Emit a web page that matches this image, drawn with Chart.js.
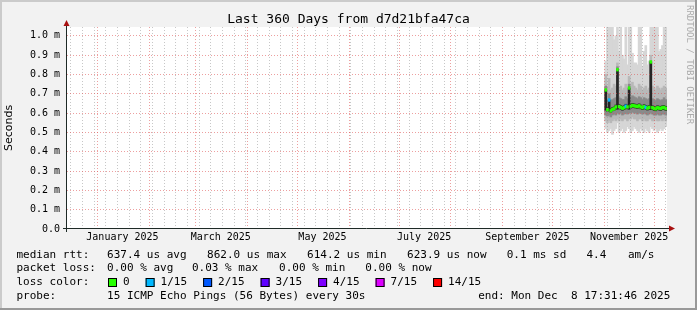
<!DOCTYPE html>
<html>
<head>
<meta charset="utf-8">
<script src="https://cdn.jsdelivr.net/npm/chart.js@4.4.1/dist/chart.umd.min.js"></script>
<style>
    html, body { margin: 0; padding: 0; background: #f2f2f2; }
    #wrap { width: 697px; height: 310px; }
</style>
</head>
<body>
<div id="wrap"><canvas id="smokeChart" width="697" height="310"></canvas></div>
<script>
// x is counted in days from 1 Jan 2025; graph ends Mon Dec 8 2025 17:31:46
const endDay = 341.73;
const startDay = endDay - 360;
const firstMonday = -16;

const monthStarts = [0, 31, 59, 90, 120, 151, 181, 212, 243, 273, 304, 334];
const labelDays = [15, 74, 135, 196, 258, 319];
const monthLabels = ['January 2025', 'March 2025', 'May 2025', 'July 2025', 'September 2025', 'November 2025'];

const yTickValues = [0, 0.1, 0.2, 0.3, 0.4, 0.5, 0.6, 0.7, 0.8, 0.9, 1.0];
const yTickLabels = ['0.0', '0.1 m', '0.2 m', '0.3 m', '0.4 m', '0.5 m', '0.6 m', '0.7 m', '0.8 m', '0.9 m', '1.0 m'];

// one column per day, values in ms
const smokeDays = [305, 306, 307, 308, 309, 310, 311, 312, 313, 314, 315, 316, 317, 318, 319, 320, 321, 322, 323,
    324, 325, 326, 327, 328, 329, 330, 331, 332, 333, 334, 335, 336, 337, 338, 339, 340, 341];
const medianRtt = [0.72, 0.618, 0.668, 0.612, 0.62, 0.622, 0.632, 0.825, 0.634, 0.63, 0.625, 0.628, 0.636, 0.632, 0.73,
    0.636, 0.64, 0.638, 0.636, 0.634, 0.638, 0.632, 0.628, 0.634, 0.63, 0.626, 0.63, 0.865, 0.628, 0.624, 0.622, 0.628,
    0.626, 0.624, 0.628, 0.63, 0.624];
const lossCount = [0, 0, 1, 0, 0, 0, 0, 0, 0, 0, 0, 0, 1, 0, 0, 0, 0, 0, 0, 0, 0, 0, 0, 0, 1, 0, 0, 0, 0, 0, 0, 0, 0, 0, 0, 0, 0];
const smokeMin = [0.52, 0.5, 0.51, 0.52, 0.49, 0.51, 0.52, 0.55, 0.5, 0.51, 0.52, 0.5, 0.51, 0.53, 0.52, 0.5, 0.51, 0.53,
    0.52, 0.51, 0.5, 0.52, 0.51, 0.5, 0.52, 0.51, 0.5, 0.53, 0.52, 0.51, 0.52, 0.5, 0.51, 0.52, 0.51, 0.52, 0.53];
const smokeMax = [0.87, 1.1, 1.1, 1.1, 1.1, 0.98, 1.0, 1.1, 0.92, 1.1, 0.9, 0.88, 1.1, 0.85, 1.1, 1.1, 0.91, 0.86, 0.86,
    0.85, 1.1, 1.1, 0.84, 0.92, 0.95, 0.85, 0.87, 1.1, 1.1, 1.1, 1.1, 1.1, 0.92, 0.93, 0.95, 1.1, 1.1];
const midLow = [0.56, 0.55, 0.56, 0.55, 0.56, 0.57, 0.56, 0.57, 0.56, 0.57, 0.56, 0.57, 0.57, 0.56, 0.57, 0.57, 0.58, 0.57,
    0.57, 0.56, 0.57, 0.57, 0.56, 0.57, 0.56, 0.56, 0.57, 0.57, 0.56, 0.56, 0.57, 0.56, 0.56, 0.57, 0.56, 0.57, 0.56];
const midHigh = [0.8, 0.74, 0.78, 0.72, 0.73, 0.75, 0.74, 0.86, 0.73, 0.74, 0.72, 0.73, 0.75, 0.72, 0.79, 0.74, 0.76, 0.74,
    0.73, 0.72, 0.75, 0.74, 0.72, 0.73, 0.74, 0.72, 0.73, 0.9, 0.74, 0.73, 0.72, 0.74, 0.73, 0.72, 0.73, 0.74, 0.73];
const innerLow = [0.59, 0.585, 0.59, 0.58, 0.59, 0.595, 0.59, 0.6, 0.595, 0.6, 0.59, 0.595, 0.6, 0.595, 0.6, 0.6, 0.605,
    0.6, 0.6, 0.595, 0.6, 0.6, 0.595, 0.6, 0.595, 0.59, 0.595, 0.6, 0.595, 0.59, 0.59, 0.595, 0.59, 0.59, 0.595, 0.595, 0.59];
const innerHigh = [0.74, 0.67, 0.7, 0.665, 0.67, 0.675, 0.68, 0.84, 0.68, 0.675, 0.67, 0.67, 0.685, 0.675, 0.75, 0.68, 0.69,
    0.685, 0.68, 0.675, 0.685, 0.68, 0.67, 0.68, 0.675, 0.67, 0.675, 0.87, 0.675, 0.67, 0.665, 0.675, 0.67, 0.665, 0.67, 0.68, 0.67];
const coreLow = [0.615, 0.61, 0.612, 0.605, 0.612, 0.615, 0.622, 0.62, 0.625, 0.62, 0.615, 0.618, 0.626, 0.622, 0.62, 0.626,
    0.63, 0.628, 0.626, 0.624, 0.628, 0.622, 0.618, 0.624, 0.62, 0.616, 0.62, 0.618, 0.618, 0.614, 0.612, 0.618, 0.616, 0.614,
    0.618, 0.62, 0.614];
const coreHigh = [0.72, 0.628, 0.668, 0.622, 0.63, 0.632, 0.642, 0.825, 0.644, 0.64, 0.635, 0.638, 0.646, 0.642, 0.73, 0.646,
    0.65, 0.648, 0.646, 0.644, 0.648, 0.642, 0.638, 0.644, 0.64, 0.636, 0.64, 0.865, 0.638, 0.634, 0.632, 0.638, 0.636, 0.634,
    0.638, 0.64, 0.634];

const lossLabels = ['0', '1/15', '2/15', '3/15', '4/15', '7/15', '14/15'];
const lossColors = ['#26ff00', '#00b8ff', '#0059ff', '#5e00ff', '#7e00ff', '#dd00ff', '#ff0000'];

const rttStats = ['637.4 us avg', '862.0 us max', '614.2 us min', '623.9 us now', '0.1 ms sd', '4.4', 'am/s'];
const lossStats = ['0.00 % avg', '0.03 % max', '0.00 % min', '0.00 % now'];
const probeText = '15 ICMP Echo Pings (56 Bytes) every 30s';
const endText = 'end: Mon Dec  8 17:31:46 2025';
const titleText = 'Last 360 Days from d7d21bfa47ca';

const MONO = '"DejaVu Sans Mono", monospace';
const MAJOR_GRID = 'rgba(222, 80, 80, 0.55)';
const MINOR_GRID = 'rgba(143, 143, 143, 0.5)';

function buildXTicks() {
    const ticks = monthStarts.map(function(d) { return { value: d, kind: 'major' }; });
    for (let d = firstMonday; d <= endDay; d += 7) {
        if (monthStarts.indexOf(d) === -1) {
            ticks.push({ value: d, kind: 'minor' });
        }
    }
    labelDays.forEach(function(d, i) {
        ticks.push({ value: d + 0.001, kind: 'label', text: monthLabels[i] });
    });
    ticks.sort(function(a, b) { return a.value - b.value; });
    return ticks;
}

const xTicks = buildXTicks();

function toBars(lo, hi) {
    return smokeDays.map(function(day, i) {
        return { x: day, y: [lo[i], hi[i]] };
    });
}

function smokeSet(lo, hi, color, order) {
    return {
        data: toBars(lo, hi),
        backgroundColor: color,
        borderWidth: 0,
        barThickness: 2,
        grouped: false,
        order: order
    };
}

const medianBars = smokeDays.map(function(day, i) {
    return { x: day, y: [medianRtt[i] - 0.007, medianRtt[i] + 0.007] };
});

const framePlugin = {
    id: 'rrdFrame',
    beforeDraw: function(chart) {
        const ctx = chart.ctx;
        const a = chart.chartArea;
        ctx.save();
        ctx.fillStyle = '#f2f2f2';
        ctx.fillRect(0, 0, chart.width, chart.height);
        ctx.fillStyle = '#ffffff';
        ctx.fillRect(a.left, a.top, a.right - a.left, a.bottom - a.top);
        ctx.restore();
    },
    afterDraw: function(chart) {
        const ctx = chart.ctx;
        const a = chart.chartArea;
        ctx.save();

        // axes and arrows
        ctx.strokeStyle = '#1e2a26';
        ctx.lineWidth = 1;
        ctx.beginPath();
        ctx.moveTo(a.left - 4, a.bottom - 0.5);
        ctx.lineTo(a.right + 3, a.bottom - 0.5);
        ctx.moveTo(a.left - 0.5, a.bottom + 3);
        ctx.lineTo(a.left - 0.5, a.top - 2);
        ctx.stroke();
        ctx.fillStyle = '#a81010';
        ctx.beginPath();
        ctx.moveTo(a.left - 0.5, a.top - 7);
        ctx.lineTo(a.left - 3.5, a.top - 1);
        ctx.lineTo(a.left + 2.5, a.top - 1);
        ctx.closePath();
        ctx.fill();
        ctx.beginPath();
        ctx.moveTo(a.right + 8, a.bottom - 0.5);
        ctx.lineTo(a.right + 2, a.bottom - 3.5);
        ctx.lineTo(a.right + 2, a.bottom + 2.5);
        ctx.closePath();
        ctx.fill();

        // title
        ctx.fillStyle = '#000';
        ctx.textBaseline = 'middle';
        ctx.textAlign = 'center';
        ctx.font = '13px ' + MONO;
        ctx.fillText(titleText, 348.5, 19.5);

        // legend
        ctx.textAlign = 'left';
        ctx.font = '11px ' + MONO;
        const rttX = [107.1, 207.1, 307.1, 407.1, 506.7, 586.5, 628];
        ctx.fillText('median rtt:', 16.4, 255);
        rttStats.forEach(function(t, i) { ctx.fillText(t, rttX[i], 255); });
        const lossX = [107.1, 192, 279.1, 365.3];
        ctx.fillText('packet loss:', 16.4, 268.5);
        lossStats.forEach(function(t, i) { ctx.fillText(t, lossX[i], 268.5); });
        ctx.fillText('loss color:', 16.4, 282.3);
        let bx = 108;
        lossLabels.forEach(function(t, i) {
            ctx.fillStyle = lossColors[i];
            ctx.fillRect(bx, 278, 9, 9);
            ctx.strokeStyle = '#000';
            ctx.strokeRect(bx + 0.5, 278.5, 8, 8);
            ctx.fillStyle = '#000';
            ctx.fillText(t, bx + 15, 282.3);
            bx += 15 + ctx.measureText(t).width + 16;
        });
        ctx.fillText('probe:', 16.4, 296);
        ctx.fillText(probeText, 107.1, 296);
        ctx.fillText(endText, 478.2, 296);

        // watermark
        ctx.save();
        ctx.translate(689.5, 5);
        ctx.rotate(Math.PI / 2);
        ctx.fillStyle = '#ababab';
        ctx.font = '9px ' + MONO;
        ctx.textBaseline = 'middle';
        ctx.fillText('RRDTOOL / TOBI OETIKER', 0, 0);
        ctx.restore();

        // shaded frame
        ctx.fillStyle = '#cbcbcb';
        ctx.fillRect(0, 0, chart.width, 2);
        ctx.fillRect(0, 0, 2, chart.height);
        ctx.fillStyle = '#999999';
        ctx.fillRect(0, chart.height - 2, chart.width, 2);
        ctx.fillRect(chart.width - 2, 0, 2, chart.height);
        ctx.restore();
    }
};

Chart.defaults.font.family = MONO;

new Chart(document.getElementById('smokeChart'), {
    type: 'bar',
    data: {
        datasets: [
            smokeSet(smokeMin, smokeMax, '#d6d6d6', 5),
            smokeSet(midLow, midHigh, '#b8b8b8', 4),
            smokeSet(innerLow, innerHigh, '#8a8a8a', 3),
            smokeSet(coreLow, coreHigh, '#262626', 2),
            {
                data: medianBars,
                backgroundColor: lossCount.map(function(n) { return lossColors[n]; }),
                borderWidth: 0,
                barThickness: 2,
                grouped: false,
                order: 1
            }
        ]
    },
    options: {
        responsive: false,
        animation: false,
        events: [],
        layout: { padding: { left: 0, right: 30, top: 27, bottom: 0 } },
        plugins: { legend: { display: false }, tooltip: { enabled: false }, title: { display: false } },
        scales: {
            x: {
                type: 'linear',
                min: startDay,
                max: endDay,
                offset: false,
                afterFit: function(s) { s.height = 81; s.paddingLeft = 0; s.paddingRight = 0; },
                afterBuildTicks: function(s) { s.ticks = xTicks.map(function(t) { return { value: t.value }; }); },
                grid: {
                    z: 1,
                    offset: false,
                    drawTicks: false,
                    lineWidth: 1,
                    color: function(ctx) {
                        const t = xTicks[ctx.index];
                        if (!t || t.kind === 'label') return 'rgba(0,0,0,0)';
                        return t.kind === 'major' ? MAJOR_GRID : MINOR_GRID;
                    }
                },
                border: { display: false, dash: [1, 2] },
                ticks: {
                    autoSkip: false,
                    maxRotation: 0,
                    padding: 2,
                    color: '#000',
                    font: { size: 10, family: MONO },
                    callback: function(v, i) {
                        const t = xTicks[i];
                        return t && t.kind === 'label' ? t.text : '';
                    }
                }
            },
            y: {
                min: 0,
                max: 1.046,
                afterFit: function(s) { s.width = 67; s.paddingTop = 0; s.paddingBottom = 0; },
                afterBuildTicks: function(s) { s.ticks = yTickValues.map(function(v) { return { value: v }; }); },
                grid: {
                    z: 1,
                    drawTicks: false,
                    lineWidth: 1,
                    color: function(ctx) { return ctx.index === 0 ? 'rgba(0,0,0,0)' : MAJOR_GRID; }
                },
                border: { display: false, dash: [1, 2] },
                ticks: {
                    padding: 7,
                    color: '#000',
                    font: { size: 10, family: MONO },
                    callback: function(v, i) { return yTickLabels[i]; }
                },
                title: {
                    display: true,
                    text: 'Seconds',
                    color: '#000',
                    font: { size: 11, family: '"DejaVu Sans", sans-serif' },
                    padding: { top: 3, bottom: 0 }
                }
            }
        }
    },
    plugins: [framePlugin]
});
</script>
</body>
</html>
